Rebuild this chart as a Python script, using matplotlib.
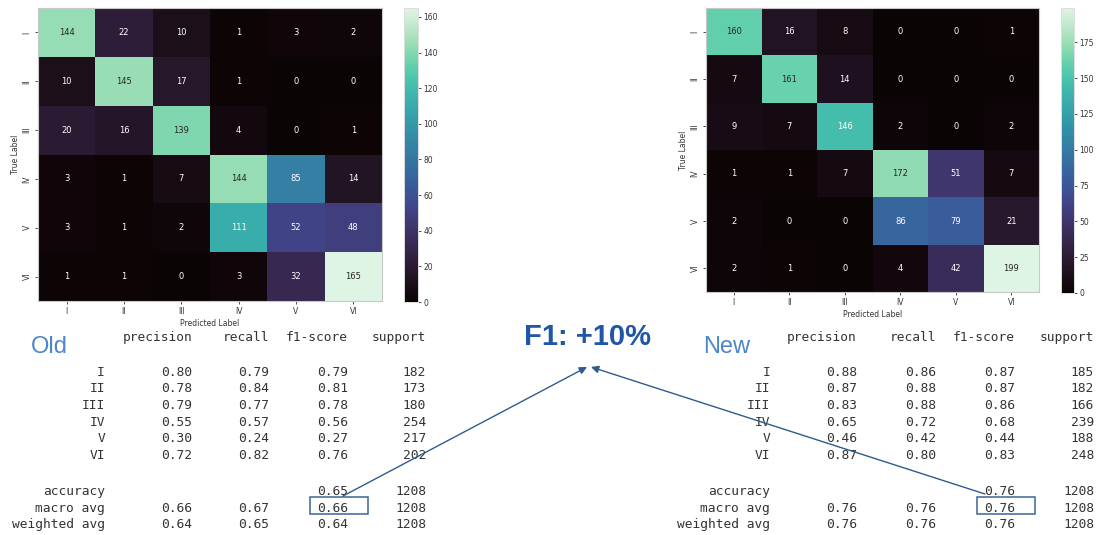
import matplotlib
matplotlib.use("Agg")
import matplotlib.pyplot as plt
import seaborn as sns
import numpy as np
from matplotlib.patches import Rectangle

W, H = 1097, 535

classes = ["I", "II", "III", "IV", "V", "VI"]

old_cm = [[144, 22, 10, 1, 3, 2],
          [10, 145, 17, 1, 0, 0],
          [20, 16, 139, 4, 0, 1],
          [3, 1, 7, 144, 85, 14],
          [3, 1, 2, 111, 52, 48],
          [1, 1, 0, 3, 32, 165]]
new_cm = [[160, 16, 8, 0, 0, 1],
          [7, 161, 14, 0, 0, 0],
          [9, 7, 146, 2, 0, 2],
          [1, 1, 7, 172, 51, 7],
          [2, 0, 0, 86, 79, 21],
          [2, 1, 0, 4, 42, 199]]

old_precision = [0.80, 0.78, 0.79, 0.55, 0.30, 0.72]
old_recall = [0.79, 0.84, 0.77, 0.57, 0.24, 0.82]
old_f1 = [0.79, 0.81, 0.78, 0.56, 0.27, 0.76]
old_support = [182, 173, 180, 254, 217, 202]
old_accuracy = 0.65
old_macro = [0.66, 0.67, 0.66]
old_weighted = [0.64, 0.65, 0.64]

new_precision = [0.88, 0.87, 0.83, 0.65, 0.46, 0.87]
new_recall = [0.86, 0.88, 0.88, 0.72, 0.42, 0.80]
new_f1 = [0.87, 0.87, 0.86, 0.68, 0.44, 0.83]
new_support = [185, 182, 166, 239, 188, 248]
new_accuracy = 0.76
new_macro = [0.76, 0.76, 0.76]
new_weighted = [0.76, 0.76, 0.76]
total_support = 1208

headline = "F1: +10%"


def px_axes(fig, x0, y0, x1, y1):
    return fig.add_axes([x0 / W, 1 - y1 / H, (x1 - x0) / W, (y1 - y0) / H])


fig = plt.figure(figsize=(W / 100, H / 100), dpi=100)
fig.patch.set_facecolor("white")


def draw_cm(cm, hm_box, cb_box, cb_ticks):
    ax = px_axes(fig, *hm_box)
    cax = px_axes(fig, *cb_box)
    sns.heatmap(np.array(cm), annot=True, fmt="d", cmap="mako", ax=ax,
                cbar_ax=cax, xticklabels=classes, yticklabels=classes,
                annot_kws={"fontsize": 6})
    ax.set_xlabel("Predicted Label", fontsize=5.5, labelpad=2, color="#333333")
    ax.set_ylabel("True Label", fontsize=5.5, labelpad=2, color="#333333")
    ax.tick_params(axis="both", labelsize=5.5, length=2.5, width=0.6,
                   colors="#333333", pad=2)
    plt.setp(ax.get_yticklabels(), rotation=90, va="center")
    plt.setp(ax.get_xticklabels(), rotation=0)
    for s in ax.spines.values():
        s.set_visible(True)
        s.set_color("#c8c8c8")
        s.set_linewidth(0.8)
    cax.set_yticks(cb_ticks)
    cax.tick_params(labelsize=5.5, length=2.5, width=0.6, colors="#333333", pad=1.5)
    for s in cax.spines.values():
        s.set_visible(True)
        s.set_color("#dddddd")
        s.set_linewidth(0.6)


draw_cm(old_cm, (38, 8, 382, 301), (404, 8, 418, 302), list(range(0, 161, 20)))
draw_cm(new_cm, (706, 8, 1039, 292), (1061, 8, 1074, 293), list(range(0, 176, 25)))

# overlay for text and arrows
ov = fig.add_axes([0, 0, 1, 1])
ov.set_xlim(0, W)
ov.set_ylim(H, 0)
ov.axis("off")
ov.patch.set_alpha(0)

mono = dict(family="DejaVu Sans Mono", fontsize=9.3, color="#333333", ha="right", va="baseline")
row_y = [375.7, 392.3, 409.0, 425.7, 442.3, 459.0]
acc_y, mac_y, wei_y = 495.0, 511.7, 528.3
head_y = 341.0


def draw_report(cols, prec, rec, f1, sup, acc, mac, wei):
    lab_x, p_x, r_x, f_x, s_x = cols
    for x, t in zip((p_x, r_x, f_x, s_x), ("precision", "recall", "f1-score", "support")):
        ov.text(x, head_y, t, **mono)
    for i, c in enumerate(classes):
        y = row_y[i]
        ov.text(lab_x, y, c, **mono)
        ov.text(p_x, y, f"{prec[i]:.2f}", **mono)
        ov.text(r_x, y, f"{rec[i]:.2f}", **mono)
        ov.text(f_x, y, f"{f1[i]:.2f}", **mono)
        ov.text(s_x, y, f"{sup[i]}", **mono)
    ov.text(lab_x, acc_y, "accuracy", **mono)
    ov.text(f_x, acc_y, f"{acc:.2f}", **mono)
    ov.text(s_x, acc_y, f"{total_support}", **mono)
    for y, name, vals in ((mac_y, "macro avg", mac), (wei_y, "weighted avg", wei)):
        ov.text(lab_x, y, name, **mono)
        ov.text(p_x, y, f"{vals[0]:.2f}", **mono)
        ov.text(r_x, y, f"{vals[1]:.2f}", **mono)
        ov.text(f_x, y, f"{vals[2]:.2f}", **mono)
        ov.text(s_x, y, f"{total_support}", **mono)


draw_report((105, 192, 269, 348, 426), old_precision, old_recall, old_f1,
            old_support, old_accuracy, old_macro, old_weighted)
draw_report((770, 857, 936, 1015, 1094), new_precision, new_recall, new_f1,
            new_support, new_accuracy, new_macro, new_weighted)

title_kw = dict(family="Liberation Sans", fontsize=17, color="#4a86c8", va="baseline", ha="left")
ov.text(31, 353, "Old", **title_kw)
ov.text(703, 353, "New", **title_kw)

ov.text(588, 337, headline, family="Liberation Sans", fontsize=21, fontweight="bold",
        color="#1f56a5", ha="center", va="center")

line_c = "#3a6496"
ov.add_patch(Rectangle((310, 497), 58, 17, fill=False, edgecolor=line_c, lw=1.1))
ov.add_patch(Rectangle((977, 497), 58, 17, fill=False, edgecolor=line_c, lw=1.1))

arrow_kw = dict(arrowstyle="-|>", color="#2f5b8e", lw=1.0, mutation_scale=11,
                shrinkA=0, shrinkB=0)
ov.annotate("", xy=(587, 367), xytext=(343, 496), arrowprops=arrow_kw)
ov.annotate("", xy=(591, 367), xytext=(985, 494), arrowprops=arrow_kw)

fig.savefig("out.png", dpi=100)
